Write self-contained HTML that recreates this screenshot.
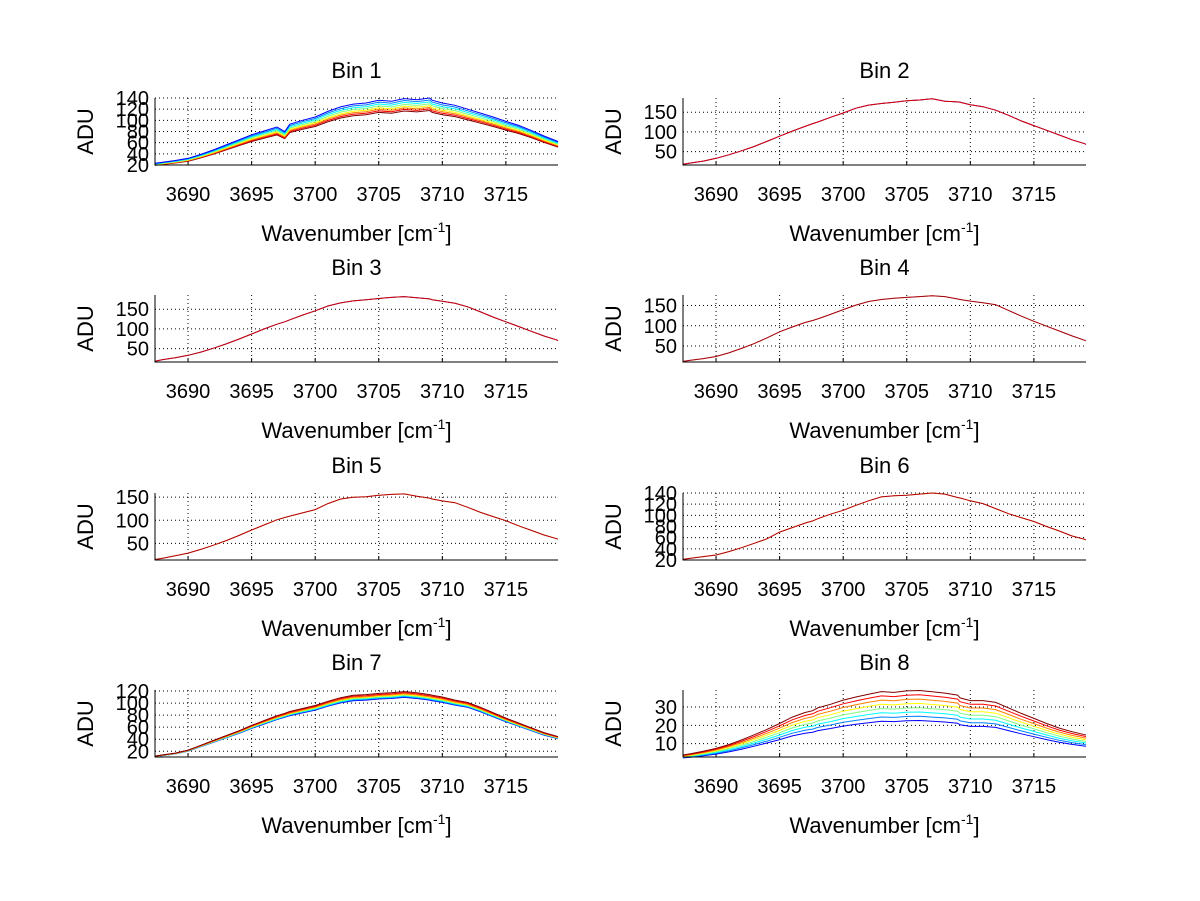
<!DOCTYPE html>
<html><head><meta charset="utf-8">
<style>
html,body{margin:0;padding:0;background:#fff;}
svg{display:block;font-family:"Liberation Sans",Arial,sans-serif;}
</style></head>
<body>
<svg id="fig" width="1200" height="901" viewBox="0 0 1200 901" xmlns="http://www.w3.org/2000/svg">
<rect x="0" y="0" width="1200" height="901" fill="#fff"/>
</svg>
<script>
// shared wavenumber grid
const wn = [3687.4,3688,3689,3690,3691,3692,3693,3694,3695,3696,3697,3697.6,3698,3699,3700,3701,3702,3703,3704,3705,3706,3707,3708,3709,3709.2,3710,3711,3712,3713,3714,3715,3716,3717,3718,3719,3719.1];
const xTicks = [3690,3695,3700,3705,3710,3715];
const xLim = [3687.4,3719.1];

const bin1Top = [23,25,28,32,39,47,56,65,74,81,88,80,93,100,106,116,124,129,131,136,134,139,137,140,136,131,127,120,113,106,98,91,82,72,63,62];
const bin1Scales = [1,0.975,0.95,0.925,0.9,0.88,0.86,0.84];
const bin2Vals = [18,21,26,33,42,52,63,76,89,102,114,121,125,137,148,160,168,172,175,179,181,184,178,176,175,169,164,155,142,128,116,104,92,80,70,68];
const bin3Vals = [18,22,27,33,41,51,62,74,87,100,112,118,123,135,146,158,166,171,174,177,180,182,179,176,174,170,165,156,143,130,118,106,94,82,72,70];
const bin4Vals = [12,15,19,24,33,44,56,70,85,97,108,113,117,128,140,151,160,165,168,170,172,174,172,166,165,161,157,152,138,124,111,99,87,75,64,63];
const bin5Vals = [15,18,23,29,37,46,56,67,79,90,101,106,109,116,123,136,146,150,151,154,156,157,152,148,146,142,138,128,117,108,99,88,78,68,60,59];
const bin6Vals = [21,23,26,29,35,42,50,58,70,78,86,90,94,102,109,118,126,133,135,136,138,140,138,132,131,126,121,112,103,96,89,80,72,63,57,56];
const bin7Top = [12,14,17,22,30,38,46,54,63,71,79,83,86,91,96,103,109,113,114,116,117,119,117,114,113,110,105,101,93,84,75,67,59,51,45,44];
const bin7Scales = [0.92,0.93,0.94,0.95,0.96,0.97,0.985,1];
const bin8Top = [3.8,4.5,5.8,7.4,9.5,12,14.8,17.8,21,24.5,27,28,29.5,31.5,33.8,35.5,37,38.4,38,38.8,39,38.3,37.6,36.5,35,33.5,33.5,32.5,29.5,26.5,23.8,21,18.5,16.5,14.9,14.7];
const bin8Scales = [0.58,0.64,0.7,0.76,0.82,0.88,0.94,1];

const jet = ['#0000ff','#0080ff','#00ffff','#80ff80','#ffff00','#ff8000','#ff0000','#800000'];

const yTicks1 = [20,40,60,80,100,120,140];
const yTicks2 = [50,100,150];
const yTicks7 = [20,40,60,80,100,120];
const yTicks8 = [10,20,30];

const panels = [
 {title:'Bin 1',col:0,row:0,ylim:[20,140],yt:yTicks1,series:bin1Scales.map((s,i)=>({v:bin1Top.map(v=>v*s),c:jet[i]})).reverse()},
 {title:'Bin 2',col:1,row:0,ylim:[16,186],yt:yTicks2,series:[{v:bin2Vals,c:'#0000cc'},{v:bin2Vals,c:'#e00000'}]},
 {title:'Bin 3',col:0,row:1,ylim:[16,186],yt:yTicks2,series:[{v:bin3Vals,c:'#3030c0'},{v:bin3Vals,c:'#d00000'}]},
 {title:'Bin 4',col:1,row:1,ylim:[10.5,176],yt:yTicks2,series:[{v:bin4Vals,c:'#ffb000'},{v:bin4Vals,c:'#a00020'}]},
 {title:'Bin 5',col:0,row:2,ylim:[14,159],yt:yTicks2,series:[{v:bin5Vals,c:'#ffb000'},{v:bin5Vals,c:'#b00010'}]},
 {title:'Bin 6',col:1,row:2,ylim:[20,140],yt:yTicks1,series:[{v:bin6Vals,c:'#ffb000'},{v:bin6Vals,c:'#b00010'}]},
 {title:'Bin 7',col:0,row:3,ylim:[10.5,121.7],yt:yTicks7,series:bin7Scales.map((s,i)=>({v:bin7Top.map(v=>v*s),c:jet[i]}))},
 {title:'Bin 8',col:1,row:3,ylim:[2.7,39.3],yt:yTicks8,series:bin8Scales.map((s,i)=>({v:bin8Top.map(v=>v*s),c:jet[i]}))}
];

const NS='http://www.w3.org/2000/svg';
const svg=document.getElementById('fig');
function mk(tag,attrs,parent){const e=document.createElementNS(NS,tag);for(const k in attrs)e.setAttribute(k,attrs[k]);(parent||svg).appendChild(e);return e;}

const colX=[155,683], W=403, rowY=[98,295,493,690], H=67;

panels.forEach((p,pi)=>{
  const x0=colX[p.col], y0=rowY[p.row];
  const g=mk('g',{});
  
  
  const sx=v=>x0+(v-xLim[0])/(xLim[1]-xLim[0])*W;
  const sy=v=>y0+H-(v-p.ylim[0])/(p.ylim[1]-p.ylim[0])*H;
  xTicks.forEach(t=>{
    const l=mk('line',{x1:sx(t),x2:sx(t),y1:y0,y2:y0+H,stroke:'#000','stroke-width':1,'stroke-dasharray':'1,3'},g);
    
    
    const tk=mk('line',{x1:sx(t),x2:sx(t),y1:y0+H,y2:y0+H-4,stroke:'#000','stroke-width':1},g);
    
    
    const tx=mk('text',{x:sx(t),y:y0+H+36,'text-anchor':'middle','font-size':20,fill:'#000'},g);
    tx.textContent=t;
    
    
  });
  p.yt.forEach(t=>{
    const l=mk('line',{x1:x0,x2:x0+W,y1:sy(t),y2:sy(t),stroke:'#000','stroke-width':1,'stroke-dasharray':'1,3'},g);
    
    
    const tx=mk('text',{x:x0-6,y:sy(t)+7,'text-anchor':'end','font-size':20,fill:'#000'},g);
    tx.textContent=t;
    
    
  });
  p.series.forEach((s,si)=>{
    const d=wn.map((x,i)=>(i?'L':'M')+sx(x).toFixed(1)+','+sy(s.v[i]).toFixed(1)).join('');
    const path=mk('path',{d:d,fill:'none',stroke:s.c,'stroke-width':1},g);
    
    
  });
  const ax=mk('path',{d:`M${x0},${y0}V${y0+H}H${x0+W}`,fill:'none',stroke:'#000','stroke-width':1},g);
  
  
  const tt=mk('text',{x:x0+W/2,y:y0-20,'text-anchor':'middle','font-size':22,fill:'#000'},g);
  tt.textContent=p.title;
  
  
  const xl=mk('text',{x:x0+W/2,y:y0+H+76,'text-anchor':'middle','font-size':22,fill:'#000'},g);
  xl.innerHTML='Wavenumber [cm<tspan dy="-9" font-size="14">-1</tspan><tspan dy="9">]</tspan>';
  
  
  const yl=mk('text',{x:0,y:0,'text-anchor':'middle','font-size':22,fill:'#000',transform:`translate(${x0-62},${y0+H/2}) rotate(-90)`},g);
  yl.textContent='ADU';
  
  
});
</script>
</body></html>
